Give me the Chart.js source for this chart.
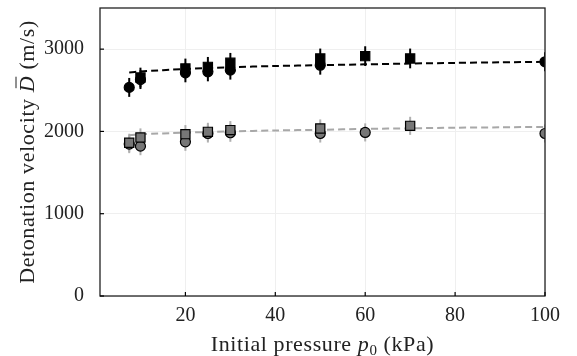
<!DOCTYPE html>
<html>
<head>
<meta charset="utf-8">
<script src="https://cdn.jsdelivr.net/npm/chart.js@4"></script>
<style>
  html, body { margin: 0; padding: 0; background: #fff; }
  canvas { display: block; }
</style>
</head>
<body>
<canvas id="chart" width="577" height="356"></canvas>
<script>
// data
const blackCircleX = [7.5, 10, 20, 25, 30, 50, 100];
const blackCircleY = [2535, 2630, 2712, 2724, 2745, 2805, 2846];
const blackCircleErr = [115, 115, 115, 115, 115, 115, 115];

const blackSquareX = [10, 20, 25, 30, 50, 60, 70];
const blackSquareY = [2655, 2765, 2785, 2834, 2887, 2915, 2887];
const blackSquareErr = [120, 120, 120, 120, 120, 120, 120];

const grayCircleX = [7.5, 10, 20, 25, 30, 50, 60, 100];
const grayCircleY = [1846, 1821, 1874, 1975, 1984, 1975, 1988, 1975];
const grayCircleErr = [110, 110, 110, 110, 110, 110, 110, 110];

const graySquareX = [7.5, 10, 20, 25, 30, 50, 70];
const graySquareY = [1862, 1927, 1967, 1995, 2016, 2036, 2068];
const graySquareErr = [110, 110, 110, 110, 110, 110, 110];

const fitX = [7.5, 10, 20, 30, 40, 50, 60, 70, 80, 90, 100];
const fitBlack = [2717, 2728, 2760, 2780, 2795, 2805, 2815, 2825, 2833, 2840, 2846];
const fitGray = [1955, 1965, 1985, 2000, 2012, 2020, 2030, 2038, 2045, 2050, 2055];

const xTicks = [20, 40, 60, 80, 100];
const yTicks = [0, 1000, 2000, 3000];

const FONT = "'Liberation Serif', 'DejaVu Serif', serif";

function pts(xs, ys, errs) {
  return xs.map((x, i) => ({ x: x, y: ys[i], err: errs ? errs[i] : 0 }));
}

function markerSet(label, xs, ys, errs, shape, fill, errColor, order) {
  return {
    label: label,
    data: pts(xs, ys, errs),
    showLine: false,
    pointStyle: shape,
    pointRadius: shape === "rect" ? 6.5 : 5,
    pointBackgroundColor: fill,
    pointBorderColor: "#000",
    pointBorderWidth: 1.2,
    errColor: errColor,
    clip: 0,
    order: order
  };
}

function fitSet(label, ys, color, order) {
  return {
    label: label,
    data: pts(fitX, ys),
    showLine: true,
    borderColor: color,
    borderWidth: 2,
    borderDash: [7, 4],
    pointRadius: 0,
    tension: 0.3,
    fill: false,
    clip: 0,
    order: order
  };
}

// vertical error bars, drawn under the markers
const errorBars = {
  id: "errorBars",
  beforeDatasetsDraw(chart) {
    const { ctx, chartArea, scales } = chart;
    ctx.save();
    ctx.beginPath();
    ctx.rect(chartArea.left, chartArea.top, chartArea.right - chartArea.left, chartArea.bottom - chartArea.top);
    ctx.clip();
    chart.data.datasets.forEach(ds => {
      if (!ds.errColor) return;
      ctx.strokeStyle = ds.errColor;
      ctx.lineWidth = 2;
      ds.data.forEach(p => {
        const px = scales.x.getPixelForValue(p.x);
        ctx.beginPath();
        ctx.moveTo(px, scales.y.getPixelForValue(p.y - p.err));
        ctx.lineTo(px, scales.y.getPixelForValue(p.y + p.err));
        ctx.stroke();
      });
    });
    ctx.restore();
  }
};

function drawParts(ctx, parts, cx, cy) {
  ctx.letterSpacing = "0.6px";
  let total = 0;
  parts.forEach(p => { ctx.font = p.font; total += ctx.measureText(p.text).width; });
  let x = cx - total / 2;
  parts.forEach(p => {
    ctx.font = p.font;
    ctx.fillText(p.text, x, cy + (p.dy || 0));
    const w = ctx.measureText(p.text).width;
    if (p.bar) {
      ctx.lineWidth = 1;
      ctx.beginPath();
      ctx.moveTo(x + 4, cy - 18);
      ctx.lineTo(x + w - 1, cy - 18);
      ctx.stroke();
    }
    x += w;
  });
}

// frame, inward ticks, axis titles
const frame = {
  id: "frame",
  afterDraw(chart) {
    const { ctx, chartArea: a, scales } = chart;
    ctx.save();
    ctx.strokeStyle = "#222";
    ctx.lineWidth = 1.3;
    ctx.strokeRect(a.left, a.top, a.right - a.left, a.bottom - a.top);
    ctx.lineWidth = 1.2;
    ctx.strokeStyle = "#000";
    xTicks.forEach(v => {
      const px = scales.x.getPixelForValue(v);
      ctx.beginPath(); ctx.moveTo(px, a.bottom); ctx.lineTo(px, a.bottom - 4); ctx.stroke();
    });
    yTicks.forEach(v => {
      const py = scales.y.getPixelForValue(v);
      ctx.beginPath(); ctx.moveTo(a.left, py); ctx.lineTo(a.left + 4, py); ctx.stroke();
    });

    ctx.fillStyle = "#222";
    ctx.strokeStyle = "#222";
    ctx.textBaseline = "alphabetic";
    ctx.textAlign = "left";
    const n = "22px " + FONT, it = "italic 22px " + FONT, sm = "15px " + FONT;
    drawParts(ctx, [
      { text: "Initial pressure ", font: n },
      { text: "p", font: it },
      { text: "0", font: sm, dy: 4 },
      { text: " (kPa)", font: n }
    ], (a.left + a.right) / 2, 351);

    ctx.translate(34, (a.top + a.bottom) / 2);
    ctx.rotate(-Math.PI / 2);
    drawParts(ctx, [
      { text: "Detonation velocity ", font: n },
      { text: "D", font: it, bar: true },
      { text: " (m/s)", font: n }
    ], 0, 0);
    ctx.restore();
  }
};

new Chart(document.getElementById("chart"), {
  type: "scatter",
  data: {
    datasets: [
      fitSet("fit black", fitBlack, "#000", 5),
      fitSet("fit gray", fitGray, "#a8a8a8", 6),
      markerSet("black circles", blackCircleX, blackCircleY, blackCircleErr, "circle", "#000", "#000", 2),
      markerSet("black squares", blackSquareX, blackSquareY, blackSquareErr, "rect", "#000", "#000", 1),
      markerSet("gray circles", grayCircleX, grayCircleY, grayCircleErr, "circle", "#777", "#b0b0b0", 4),
      markerSet("gray squares", graySquareX, graySquareY, graySquareErr, "rect", "#777", "#b0b0b0", 3)
    ]
  },
  options: {
    responsive: false,
    animation: false,
    layout: { padding: { left: 0, top: 8, right: 32, bottom: 0 } },
    plugins: { legend: { display: false }, tooltip: { enabled: false } },
    scales: {
      x: {
        type: "linear",
        min: 1,
        max: 100,
        afterBuildTicks: s => { s.ticks = xTicks.map(v => ({ value: v })); },
        afterFit: s => { s.height = 60; s.paddingLeft = 0; s.paddingRight = 0; },
        grid: { color: "#efefef", drawTicks: false },
        border: { display: false },
        ticks: { color: "#222", padding: 8, font: { family: FONT, size: 20 }, callback: v => String(v) }
      },
      y: {
        min: 0,
        max: 3500,
        afterBuildTicks: s => { s.ticks = yTicks.map(v => ({ value: v })); },
        afterFit: s => { s.width = 100; s.paddingTop = 0; s.paddingBottom = 0; },
        grid: { color: "#efefef", drawTicks: false },
        border: { display: false },
        ticks: { color: "#222", padding: 16, font: { family: FONT, size: 20 }, callback: v => String(v) }
      }
    }
  },
  plugins: [errorBars, frame]
});
</script>
</body>
</html>
